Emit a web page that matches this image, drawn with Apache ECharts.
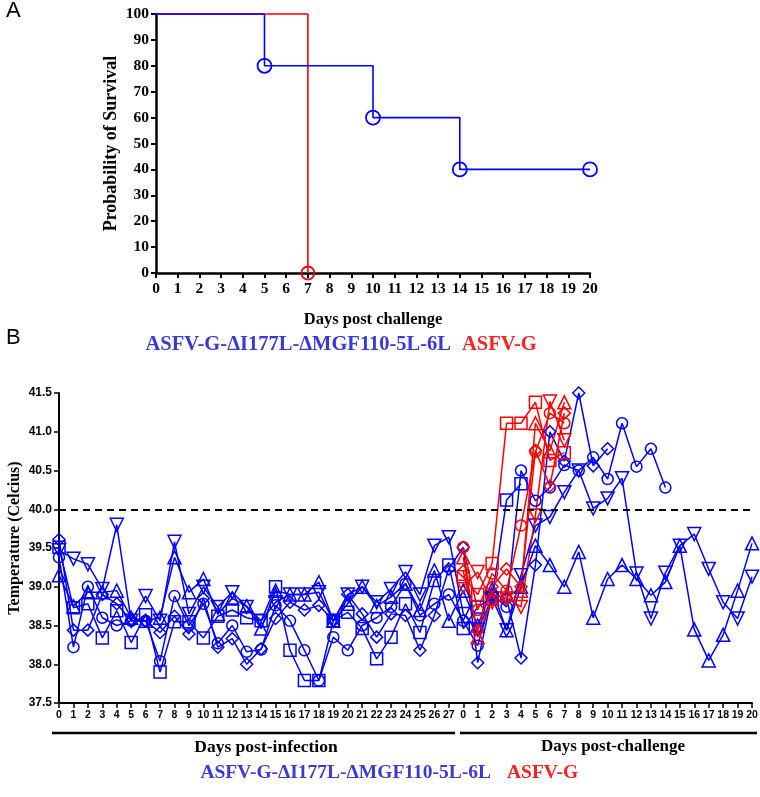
<!DOCTYPE html>
<html><head><meta charset="utf-8">
<script src="https://cdn.jsdelivr.net/npm/echarts@6/dist/echarts.min.js"></script>
<style>html,body{margin:0;padding:0;background:#fff}#c{width:760px;height:797px}</style>
</head><body><div id="c"></div>
<script>
// ---------- Panel A: survival ----------
const survBlue = [[0,100],[5,80],[10,60],[14,40],[20,40]];
const survRed = [[0,100],[7,0]];
const survBlueMarks = [false,true,true,true,true];
const survRedMarks = [false,true];

// ---------- Panel B: temperature ----------
const dpiDays = ['0','1','2','3','4','5','6','7','8','9','10','11','12','13','14','15','16','17','18','19','20','21','22','23','24','25','26','27'];
const dpcDays = ['0','1','2','3','4','5','6','7','8','9','10','11','12','13','14','15','16','17','18','19','20'];

// vaccinated animals (ASFV-G-ΔI177L-ΔMGF110-5L-6L): 28 days post-infection then 21 days post-challenge
const blueCircle = [39.38,38.22,39.0,38.6,38.5,38.56,38.56,38.04,38.88,38.5,38.78,38.27,38.5,38.16,38.19,38.76,38.56,38.18,37.79,38.35,38.18,38.5,38.6,38.74,39.04,38.63,38.78,38.9,
  38.56,38.24,38.9,38.74,40.5,40.11,40.28,40.57,40.5,40.67,40.39,41.11,40.55,40.78,40.28,null,null,null,null,null,null];
const blueSquare = [39.51,38.73,38.78,38.34,38.69,38.28,38.64,37.9,38.55,38.55,38.34,38.62,38.7,38.6,38.56,39.0,38.18,37.79,37.79,38.56,38.67,38.46,38.07,38.35,38.78,38.41,39.08,39.28,
  38.46,38.74,38.85,40.12,40.33,null,null,null,null,null,null,null,null,null,null,null,null,null,null,null,null];
const blueTriangle = [39.15,38.75,38.93,38.93,38.95,38.6,38.56,38.6,39.38,38.93,39.1,38.65,38.85,38.75,38.46,38.95,38.9,38.9,39.06,38.56,38.78,39.0,38.75,38.87,39.04,38.7,39.21,38.56,
  38.95,38.5,38.97,38.44,39.0,39.53,39.28,39.0,39.45,38.6,39.1,39.28,39.1,38.89,39.06,39.53,38.45,38.05,38.38,38.95,39.56];
const blueInvTriangle = [39.47,39.36,39.29,38.97,39.8,38.56,38.88,38.56,39.58,38.65,39.0,38.74,38.93,38.74,38.56,38.8,38.9,38.9,38.93,38.56,38.9,39.0,38.8,38.97,39.19,38.9,39.53,39.64,
  38.65,38.45,38.85,38.44,39.15,39.79,39.9,40.22,40.5,40.01,40.14,40.4,39.17,38.59,39.18,39.53,39.68,39.23,38.8,38.59,39.13];
const blueDiamond = [39.61,38.44,38.44,38.9,38.78,38.56,38.56,38.41,38.62,38.39,38.85,38.22,38.33,38.0,38.2,38.59,38.8,38.7,38.76,38.56,38.9,38.65,38.35,38.65,38.63,38.18,38.63,39.23,
  39.51,38.02,38.9,38.85,38.08,39.28,41.0,40.62,41.5,40.56,40.78,null,null,null,null,null,null,null,null,null,null];

// control animals (ASFV-G): challenge days 0-7
const redCircle = [39.51,38.7,39.17,38.95,39.79,40.74,41.24,41.11];
const redSquare = [39.13,38.9,39.3,41.11,41.11,41.38,40.63,40.73];
const redTriangle = [39.38,38.35,38.85,38.9,38.95,41.11,40.75,41.38];
const redInvTriangle = [39.0,39.19,38.8,38.85,38.74,39.92,41.39,40.89];
const redDiamond = [39.2,38.44,39.0,39.23,39.0,40.76,40.3,41.24];

const categories = dpiDays.concat(dpcDays);
const offset = dpiDays.length;
function padRed(arr){ const out = new Array(categories.length).fill(null); arr.forEach((v,i)=>{out[offset+i]=v;}); return out; }

const BLUE = '#0000ff', RED = '#ff0000';
const serif = '"Liberation Serif","Times New Roman",serif';
const narrow = '"Liberation Sans Narrow","Arial Narrow","Liberation Sans",Arial,sans-serif';

function tempSeries(name, data, color, symbol, size, rotate){
  return {
    name, type:'line', xAxisIndex:1, yAxisIndex:1, data, connectNulls:false,
    symbol, symbolSize:size, symbolRotate: rotate||0, clip:false,
    lineStyle:{color, width:1.5},
    itemStyle:{color:'rgba(255,255,255,0)', borderColor:color, borderWidth:1.5},
    emphasis:{disabled:true}, animation:false
  };
}

const series = [
  {
    type:'line', xAxisIndex:0, yAxisIndex:0, step:'end', clip:false, animation:false,
    data: survRed.map((p,i)=>({value:p, symbol: survRedMarks[i]?'circle':'none'})),
    symbolSize:13, lineStyle:{color:RED,width:1.6},
    itemStyle:{color:'rgba(255,255,255,0)',borderColor:RED,borderWidth:1.8}
  },
  {
    type:'line', xAxisIndex:0, yAxisIndex:0, step:'end', clip:false, animation:false,
    data: survBlue.map((p,i)=>({value:p, symbol: survBlueMarks[i]?'circle':'none'})),
    symbolSize:14, lineStyle:{color:BLUE,width:1.6},
    itemStyle:{color:'rgba(255,255,255,0)',borderColor:BLUE,borderWidth:1.8}
  },
  Object.assign(tempSeries('bc', blueCircle, BLUE, 'circle', 11), {
    markLine:{silent:true, symbol:'none', animation:false, label:{show:false},
      lineStyle:{color:'#000', type:[7,5], width:2}, data:[{yAxis:40}]}
  }),
  tempSeries('bs', blueSquare, BLUE, 'rect', 12),
  tempSeries('bt', blueTriangle, BLUE, 'triangle', 13),
  tempSeries('bi', blueInvTriangle, BLUE, 'triangle', 13, 180),
  tempSeries('bd', blueDiamond, BLUE, 'diamond', 12),
  tempSeries('rc', padRed(redCircle), RED, 'circle', 11),
  tempSeries('rs', padRed(redSquare), RED, 'rect', 12),
  tempSeries('rt', padRed(redTriangle), RED, 'triangle', 13),
  tempSeries('ri', padRed(redInvTriangle), RED, 'triangle', 13, 180),
  tempSeries('rd', padRed(redDiamond), RED, 'diamond', 12)
];

const option = {
  backgroundColor:'#fff',
  animation:false,
  grid:[
    {left:156, top:14, width:434, height:259, containLabel:false, outerBoundsMode:'none'},
    {left:59, top:393, width:693, height:310, containLabel:false, outerBoundsMode:'none'}
  ],
  xAxis:[
    {type:'value', gridIndex:0, min:0, max:20, interval:1,
     axisLine:{lineStyle:{color:'#000',width:2.5}},
     axisTick:{length:5,lineStyle:{color:'#000',width:2}},
     splitLine:{show:false},
     axisLabel:{color:'#000',fontFamily:serif,fontWeight:'bold',fontSize:15.5,margin:8},
     name:'Days post challenge', nameLocation:'middle', nameGap:38,
     nameTextStyle:{color:'#000',fontFamily:serif,fontWeight:'bold',fontSize:16.5}},
    {type:'category', gridIndex:1, data:categories, boundaryGap:false,
     axisLine:{lineStyle:{color:'#000',width:2}},
     axisTick:{length:5,interval:0,lineStyle:{color:'#000',width:1.5}},
     axisLabel:{interval:0,color:'#000',fontFamily:narrow,fontWeight:'bold',fontSize:10.5,margin:7},
     splitLine:{show:false}}
  ],
  yAxis:[
    {type:'value', gridIndex:0, min:0, max:100, interval:10,
     axisLine:{show:true,lineStyle:{color:'#000',width:2.5}},
     axisTick:{show:true,length:5,lineStyle:{color:'#000',width:2}},
     splitLine:{show:false},
     axisLabel:{color:'#000',fontFamily:serif,fontWeight:'bold',fontSize:15.5,margin:7},
     name:'Probability of Survival', nameLocation:'middle', nameGap:36, nameMoveOverlap:false,
     nameTextStyle:{color:'#000',fontFamily:serif,fontWeight:'bold',fontSize:18}},
    {type:'value', gridIndex:1, min:37.5, max:41.5, interval:0.5,
     axisLine:{show:true,lineStyle:{color:'#000',width:2}},
     axisTick:{show:true,length:5,lineStyle:{color:'#000',width:1.5}},
     splitLine:{show:false},
     axisLabel:{color:'#000',fontFamily:narrow,fontWeight:'bold',fontSize:12,margin:7,
       formatter:v=>v.toFixed(1)},
     name:'Temperature (Celcius)', nameLocation:'middle', nameGap:36, nameMoveOverlap:false,
     nameTextStyle:{color:'#000',fontFamily:serif,fontWeight:'bold',fontSize:16,padding:[0,0,0,20]}}
  ],
  graphic:[
    {type:'text', left:6, top:0, style:{text:'A', fontFamily:'"Liberation Sans",Arial,sans-serif', fontSize:22, fill:'#000'}},
    {type:'text', left:6, top:327, style:{text:'B', fontFamily:'"Liberation Sans",Arial,sans-serif', fontSize:22, fill:'#000'}},
    {type:'text', x:451, y:345, style:{text:'ASFV-G-ΔI177L-ΔMGF110-5L-6L', align:'right', verticalAlign:'middle', fontFamily:serif, fontWeight:'bold', fontSize:20.5, fill:'#3a3ad2'}},
    {type:'text', x:462, y:345, style:{text:'ASFV-G', align:'left', verticalAlign:'middle', fontFamily:serif, fontWeight:'bold', fontSize:20.5, fill:'#ff2020'}},
    {type:'line', shape:{x1:52,y1:733,x2:455,y2:733}, style:{stroke:'#000',lineWidth:2.5}},
    {type:'line', shape:{x1:460,y1:733,x2:757,y2:733}, style:{stroke:'#000',lineWidth:2.5}},
    {type:'text', x:266, y:747, style:{text:'Days post-infection', align:'center', verticalAlign:'middle', fontFamily:serif, fontWeight:'bold', fontSize:17.5, fill:'#000'}},
    {type:'text', x:613, y:747, style:{text:'Days post-challenge', align:'center', verticalAlign:'middle', fontFamily:serif, fontWeight:'bold', fontSize:17, fill:'#000'}},
    {type:'text', x:491, y:773, style:{text:'ASFV-G-ΔI177L-ΔMGF110-5L-6L', align:'right', verticalAlign:'middle', fontFamily:serif, fontWeight:'bold', fontSize:19.5, fill:'#3a3ad2'}},
    {type:'text', x:507, y:773, style:{text:'ASFV-G', align:'left', verticalAlign:'middle', fontFamily:serif, fontWeight:'bold', fontSize:19.5, fill:'#ff2020'}}
  ],
  series
};
const chart = echarts.init(document.getElementById('c'), null, {renderer:'canvas'});
chart.setOption(option);
</script></body></html>
